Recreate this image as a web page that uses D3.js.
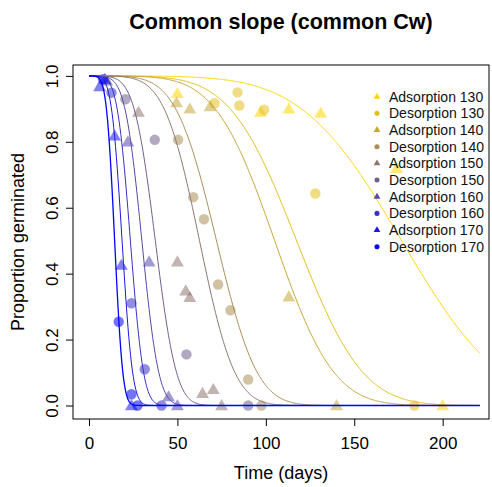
<!DOCTYPE html>
<html>
<head>
<meta charset="utf-8">
<script src="https://cdn.jsdelivr.net/npm/d3@7"></script>
<style>
  body { margin: 0; background: #fff; }
  svg { font-family: "Liberation Sans", Arial, sans-serif; }
</style>
</head>
<body>
<div class="chart"></div>
<script>
// series names and colours (gold -> blue ramp)
let seriesNames = ["Adsorption 130", "Desorption 130", "Adsorption 140", "Desorption 140",
                   "Adsorption 150", "Desorption 150", "Adsorption 160", "Desorption 160",
                   "Adsorption 170", "Desorption 170"];
let seriesColors = ["#FFD700", "#E3BF1C", "#C6A739", "#AA8F55", "#8E7771",
                    "#71608E", "#5548AA", "#3930C6", "#1C18E3", "#0000FF"];
let isAdsorption = [true, false, true, false, true, false, true, false, true, false];

// fitted curves: time to 50% (days) per series, common Ki
let t50 = [176.8, 117.4, 105, 72.1, 62.5, 37.5, 29.9, 23.4, 18.7, 14.5];
let Ki = 4.0;
let curveEnd = 221;

// observed points
let ads130Days = [50, 97, 113, 131, 174, 200];
let ads130P    = [0.947, 0.89, 0.90, 0.887, 0.72, 0.0];
let des130Days = [71, 84, 85, 99, 128, 184];
let des130P    = [0.917, 0.95, 0.91, 0.897, 0.643, 0.0];
let ads140Days = [49.5, 57, 68.5, 113, 140];
let ads140P    = [0.919, 0.90, 0.907, 0.33, 0.0];
let des140Days = [50.4, 59, 65, 73, 80, 90, 97.5];
let des140P    = [0.806, 0.632, 0.565, 0.367, 0.289, 0.079, 0.0];
let ads150Days = [28, 50, 54.7, 57, 64.2, 70.3, 75];
let ads150P    = [0.89, 0.436, 0.348, 0.328, 0.037, 0.049, 0.0];
let des150Days = [20.6, 37.2, 55.1, 90];
let des150P    = [0.929, 0.806, 0.155, 0.0];
let ads160Days = [10, 22, 34, 45, 50];
let ads160P    = [0.985, 0.80, 0.436, 0.027, 0.0];
let des160Days = [12.7, 24, 31.5, 41];
let des160P    = [0.949, 0.31, 0.11, 0.0];
let ads170Days = [6, 9, 14.5, 18.3, 24];
let ads170P    = [0.968, 0.99, 0.818, 0.426, 0.0];
let des170Days = [8, 16.8, 24, 27.4];
let des170P    = [0.99, 0.254, 0.034, 0.0];

let pointDays = [ads130Days, des130Days, ads140Days, des140Days, ads150Days,
                 des150Days, ads160Days, des160Days, ads170Days, des170Days];
let pointP = [ads130P, des130P, ads140P, des140P, ads150P,
              des150P, ads160P, des160P, ads170P, des170P];

let xTicks = [0, 50, 100, 150, 200];
let yTicks = [0, 0.2, 0.4, 0.6, 0.8, 1.0];

let width = 492, height = 487;
let plot = { left: 73, right: 489, top: 65, bottom: 419 };

// normal cdf
erf = (x) => {
    let s = x < 0 ? -1 : 1;
    x = Math.abs(x);
    let t = 1 / (1 + 0.3275911 * x);
    let y = 1 - (((((1.061405429 * t - 1.453152027) * t) + 1.421413741) * t - 0.284496736) * t + 0.254829592) * t * Math.exp(-x * x);
    return s * y;
};
pnorm = (z) => 0.5 * (1 + erf(z / Math.SQRT2));

let svg = d3.select(".chart")
    .append("svg")
    .attr("width", width)
    .attr("height", height);

let xScale = d3.scaleLinear()
    .domain([-9.05, 226.2])
    .range([plot.left, plot.right]);

let yScale = d3.scaleLinear()
    .domain([-0.041, 1.033])
    .range([plot.bottom, plot.top]);

// points first
seriesNames.forEach((name, i) => {
    let pts = pointDays[i].map((d, j) => ({ t: d, p: pointP[i][j] }));
    let sym = d3.symbol()
        .type(isAdsorption[i] ? d3.symbolTriangle : d3.symbolCircle)
        .size(isAdsorption[i] ? 72 : 85);
    svg.append("g")
        .selectAll("path")
        .data(pts)
        .enter()
        .append("path")
        .attr("d", sym)
        .attr("transform", d => "translate(" + xScale(d.t) + "," + (yScale(d.p) + (isAdsorption[i] ? 1 : 0)) + ")")
        .attr("fill", seriesColors[i])
        .attr("fill-opacity", 0.55);
});

// fitted curves
let grid = d3.range(0, curveEnd + 0.01, 0.5);
let line = d3.line()
    .x(d => xScale(d.t))
    .y(d => yScale(d.p));

seriesNames.forEach((name, i) => {
    let curve = grid.map(t => ({ t: t, p: pnorm(Ki * (1 - t / t50[i])) }));
    svg.append("path")
        .datum(curve)
        .attr("d", line)
        .attr("fill", "none")
        .attr("stroke", seriesColors[i])
        .attr("stroke-width", i == seriesNames.length - 1 ? 1.3 : 1);
});

// box
svg.append("rect")
    .attr("x", plot.left)
    .attr("y", plot.top)
    .attr("width", plot.right - plot.left)
    .attr("height", plot.bottom - plot.top)
    .attr("fill", "none")
    .attr("stroke", "#000")
    .attr("stroke-width", 1);

// axes
let xAxis = svg.append("g")
    .attr("transform", "translate(0," + plot.bottom + ")")
    .call(d3.axisBottom(xScale).tickValues(xTicks).tickSize(7).tickFormat(d3.format("d")));
xAxis.select(".domain").remove();
xAxis.selectAll("text")
    .attr("y", 30)
    .attr("dy", 0)
    .attr("font-size", 17)
    .attr("fill", "#000");

let yAxis = svg.append("g")
    .attr("transform", "translate(" + plot.left + ",0)")
    .call(d3.axisLeft(yScale).tickValues(yTicks).tickSize(7).tickFormat(d3.format(".1f")));
yAxis.select(".domain").remove();
yAxis.selectAll("text")
    .attr("x", 0)
    .attr("y", -15)
    .attr("dy", 0)
    .attr("transform", "rotate(-90)")
    .attr("text-anchor", "middle")
    .attr("font-size", 17)
    .attr("fill", "#000");
svg.selectAll(".tick line").attr("stroke", "#000");

// title and labels
svg.append("text")
    .attr("x", (plot.left + plot.right) / 2)
    .attr("y", 29)
    .attr("text-anchor", "middle")
    .attr("font-size", 21.5)
    .attr("font-weight", "bold")
    .text("Common slope (common Cw)");

svg.append("text")
    .attr("x", (plot.left + plot.right) / 2)
    .attr("y", 479)
    .attr("text-anchor", "middle")
    .attr("font-size", 18)
    .text("Time (days)");

svg.append("text")
    .attr("transform", "translate(24," + ((plot.top + plot.bottom) / 2) + ") rotate(-90)")
    .attr("text-anchor", "middle")
    .attr("font-size", 18)
    .text("Proportion germinated");

// legend
let legend = svg.append("g")
    .selectAll("g")
    .data(seriesNames)
    .enter()
    .append("g")
    .attr("transform", (d, i) => "translate(377," + (96.7 + i * 16.67) + ")");

legend.append("path")
    .attr("d", (d, i) => d3.symbol()
        .type(isAdsorption[i] ? d3.symbolTriangle : d3.symbolCircle)
        .size(20)())
    .attr("fill", (d, i) => seriesColors[i]);

legend.append("text")
    .attr("x", 12)
    .attr("y", 5)
    .attr("font-size", 14)
    .attr("fill", "#111")
    .text(d => d);
</script>
</body>
</html>
